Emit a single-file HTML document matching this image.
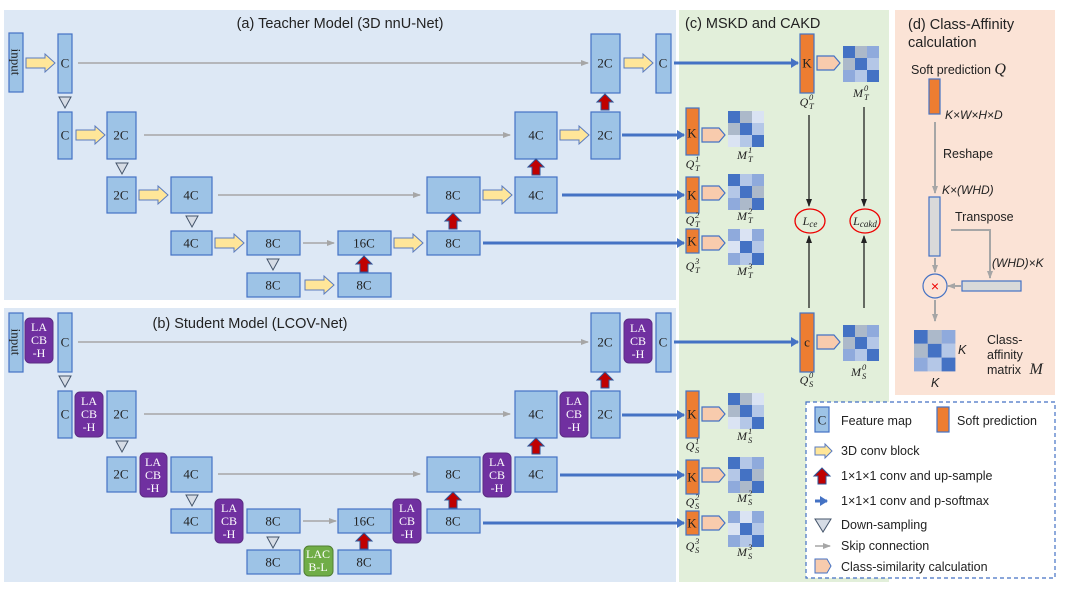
<!DOCTYPE html>
<html><head><meta charset="utf-8"><style>
html,body{margin:0;padding:0;background:#fff;}
svg{display:block;}
.b{fill:#9dc3e6;stroke:#4472c4;stroke-width:1.2;}
.t{font-family:"Liberation Serif",serif;font-size:13px;fill:#222;text-anchor:middle;dominant-baseline:central;}
.s{font-family:"Liberation Sans",sans-serif;fill:#222;}
.p{fill:#7030a0;stroke:#5b2c83;stroke-width:1;}
.pt{font-family:"Liberation Serif",serif;font-size:12px;fill:#fff;text-anchor:middle;}
.o{fill:#ed7d31;stroke:#4472c4;stroke-width:1.2;}
.sk{stroke:#a6a6a6;stroke-width:1.5;fill:none;}
.bl{stroke:#4472c4;stroke-width:3;fill:none;}
.k{stroke:#222;stroke-width:1.3;fill:none;}
.mi{font-family:"Liberation Serif",serif;font-style:italic;font-size:12px;fill:#222;text-anchor:middle;}
.sc{font-family:"Liberation Serif",serif;font-style:italic;font-size:8.5px;fill:#222;}
.g{stroke:#a6a6a6;stroke-width:2;fill:none;}
</style></head><body>
<svg width="1065" height="589" viewBox="0 0 1065 589" xmlns="http://www.w3.org/2000/svg">
<defs>
<path id="ya" d="M0,-5 H19 V-9 L29,0 L19,9 V5 H0 Z" fill="#ffe699" stroke="#5a7bbf" stroke-width="1"/>
<path id="ra" d="M0,0 L8,8 H4 V16 H-4 V8 H-8 Z" fill="#c00000" stroke="#2f5597" stroke-width="1"/>
<path id="tr" d="M-6,0 H6 L0,11 Z" fill="#d6dce5" stroke="#44546a" stroke-width="1"/>
<path id="pe" d="M0,-7 H17 L23,0 L17,7 H0 Z" fill="#f8cbad" stroke="#4472c4" stroke-width="1.2"/>
<marker id="ag" markerWidth="8" markerHeight="8" refX="7" refY="4" orient="auto" markerUnits="userSpaceOnUse"><path d="M0,1 L8,4 L0,7 Z" fill="#a6a6a6"/></marker>
<marker id="ab" markerWidth="8" markerHeight="10" refX="7" refY="5" orient="auto" markerUnits="userSpaceOnUse"><path d="M0,0 L8,5 L0,10 Z" fill="#4472c4"/></marker>
<marker id="ak" markerWidth="8" markerHeight="8" refX="7" refY="4" orient="auto" markerUnits="userSpaceOnUse"><path d="M0,1 L8,4 L0,7 Z" fill="#222"/></marker>
<g id="m0"><rect x="0" y="0" width="12" height="12" fill="#4472c4"/><rect x="12" y="0" width="12" height="12" fill="#acb9ca"/><rect x="24" y="0" width="12" height="12" fill="#8faadc"/><rect x="0" y="12" width="12" height="12" fill="#acb9ca"/><rect x="12" y="12" width="12" height="12" fill="#4472c4"/><rect x="24" y="12" width="12" height="12" fill="#b4c7e7"/><rect x="0" y="24" width="12" height="12" fill="#8faadc"/><rect x="12" y="24" width="12" height="12" fill="#b4c7e7"/><rect x="24" y="24" width="12" height="12" fill="#4472c4"/></g>
<g id="m1"><rect x="0" y="0" width="12" height="12" fill="#4472c4"/><rect x="12" y="0" width="12" height="12" fill="#acb9ca"/><rect x="24" y="0" width="12" height="12" fill="#dae3f3"/><rect x="0" y="12" width="12" height="12" fill="#acb9ca"/><rect x="12" y="12" width="12" height="12" fill="#4472c4"/><rect x="24" y="12" width="12" height="12" fill="#b4c7e7"/><rect x="0" y="24" width="12" height="12" fill="#dae3f3"/><rect x="12" y="24" width="12" height="12" fill="#b4c7e7"/><rect x="24" y="24" width="12" height="12" fill="#4472c4"/></g>
<g id="m2"><rect x="0" y="0" width="12" height="12" fill="#4472c4"/><rect x="12" y="0" width="12" height="12" fill="#b4c7e7"/><rect x="24" y="0" width="12" height="12" fill="#8faadc"/><rect x="0" y="12" width="12" height="12" fill="#b4c7e7"/><rect x="12" y="12" width="12" height="12" fill="#4472c4"/><rect x="24" y="12" width="12" height="12" fill="#acb9ca"/><rect x="0" y="24" width="12" height="12" fill="#8faadc"/><rect x="12" y="24" width="12" height="12" fill="#acb9ca"/><rect x="24" y="24" width="12" height="12" fill="#4472c4"/></g>
<g id="m3"><rect x="0" y="0" width="12" height="12" fill="#8faadc"/><rect x="12" y="0" width="12" height="12" fill="#dae3f3"/><rect x="24" y="0" width="12" height="12" fill="#8faadc"/><rect x="0" y="12" width="12" height="12" fill="#dae3f3"/><rect x="12" y="12" width="12" height="12" fill="#4472c4"/><rect x="24" y="12" width="12" height="12" fill="#b4c7e7"/><rect x="0" y="24" width="12" height="12" fill="#8faadc"/><rect x="12" y="24" width="12" height="12" fill="#b4c7e7"/><rect x="24" y="24" width="12" height="12" fill="#4472c4"/></g>
</defs>

<rect x="4" y="10" width="672" height="290" fill="#dde8f5"/>
<rect x="4" y="308" width="672" height="274" fill="#dde8f5"/>
<rect x="679" y="10" width="210" height="572" fill="#e2efda"/>
<rect x="895" y="10" width="160" height="385" fill="#fbe3d6"/>
<rect x="806" y="402" width="249" height="176" fill="#fff" stroke="#4472c4" stroke-width="1.2" stroke-dasharray="4,3"/>

<text class="s" x="340" y="28" font-size="14.5" text-anchor="middle">(a) Teacher Model (3D nnU-Net)</text>
<text class="s" x="250" y="328" font-size="14.5" text-anchor="middle">(b) Student Model (LCOV-Net)</text>
<text class="s" x="685" y="28" font-size="14.5">(c)  MSKD and CAKD</text>
<text class="s" x="908" y="29" font-size="14.5">(d) Class-Affinity</text>
<text class="s" x="908" y="47" font-size="14.5">calculation</text>

<!-- Teacher -->
<line class="sk" x1="78" y1="63" x2="588" y2="63" marker-end="url(#ag)"/>
<line class="sk" x1="144" y1="135" x2="510" y2="135" marker-end="url(#ag)"/>
<line class="sk" x1="218" y1="195" x2="420" y2="195" marker-end="url(#ag)"/>
<line class="sk" x1="303" y1="243" x2="334" y2="243" marker-end="url(#ag)"/>

<rect class="b" x="9" y="33" width="14" height="59"/>
<text class="t" transform="translate(16,62) rotate(90)" font-size="12">input</text>
<rect class="b" x="58" y="34" width="14" height="59"/><text class="t" x="65" y="63">C</text>
<use href="#tr" x="65" y="97"/>
<rect class="b" x="58" y="112" width="14" height="47"/><text class="t" x="65" y="135">C</text>
<rect class="b" x="107" y="112" width="29" height="47"/><text class="t" x="121" y="135">2C</text>
<use href="#tr" x="122" y="163"/>
<rect class="b" x="107" y="177" width="29" height="36"/><text class="t" x="121" y="195">2C</text>
<rect class="b" x="171" y="177" width="41" height="36"/><text class="t" x="191" y="195">4C</text>
<use href="#tr" x="192" y="216"/>
<rect class="b" x="171" y="231" width="41" height="24"/><text class="t" x="191" y="243">4C</text>
<rect class="b" x="247" y="231" width="53" height="24"/><text class="t" x="273" y="243">8C</text>
<rect class="b" x="338" y="231" width="53" height="24"/><text class="t" x="364" y="243">16C</text>
<rect class="b" x="427" y="231" width="53" height="24"/><text class="t" x="453" y="243">8C</text>
<use href="#tr" x="273" y="259"/>
<rect class="b" x="247" y="273" width="53" height="24"/><text class="t" x="273" y="285">8C</text>
<rect class="b" x="338" y="273" width="53" height="24"/><text class="t" x="364" y="285">8C</text>
<rect class="b" x="427" y="177" width="53" height="36"/><text class="t" x="453" y="195">8C</text>
<rect class="b" x="515" y="177" width="42" height="36"/><text class="t" x="536" y="195">4C</text>
<rect class="b" x="515" y="112" width="42" height="47"/><text class="t" x="536" y="135">4C</text>
<rect class="b" x="591" y="112" width="29" height="47"/><text class="t" x="605" y="135">2C</text>
<rect class="b" x="591" y="34" width="29" height="59"/><text class="t" x="605" y="63">2C</text>
<rect class="b" x="656" y="34" width="15" height="59"/><text class="t" x="663" y="63">C</text>

<use href="#ya" x="26" y="63"/><use href="#ya" x="76" y="135"/><use href="#ya" x="139" y="195"/>
<use href="#ya" x="215" y="243"/><use href="#ya" x="394" y="243"/><use href="#ya" x="305" y="285"/>
<use href="#ya" x="483" y="195"/><use href="#ya" x="560" y="135"/><use href="#ya" x="624" y="63"/>
<use href="#ra" x="364" y="256"/><use href="#ra" x="453" y="213"/><use href="#ra" x="536" y="159"/><use href="#ra" x="605" y="94"/>

<line class="bl" x1="674" y1="63" x2="798" y2="63" marker-end="url(#ab)"/>
<line class="bl" x1="622" y1="135" x2="684" y2="135" marker-end="url(#ab)"/>
<line class="bl" x1="562" y1="195" x2="684" y2="195" marker-end="url(#ab)"/>
<line class="bl" x1="483" y1="243" x2="684" y2="243" marker-end="url(#ab)"/>

<!-- Student -->
<line class="sk" x1="78" y1="342" x2="588" y2="342" marker-end="url(#ag)"/>
<line class="sk" x1="144" y1="414" x2="510" y2="414" marker-end="url(#ag)"/>
<line class="sk" x1="218" y1="474" x2="420" y2="474" marker-end="url(#ag)"/>
<line class="sk" x1="303" y1="521" x2="336" y2="521" marker-end="url(#ag)"/>

<rect class="b" x="9" y="313" width="14" height="59"/>
<text class="t" transform="translate(16,342) rotate(90)" font-size="12">input</text>
<rect class="p" x="25" y="318" width="28" height="45" rx="5"/><text class="pt" x="39" y="331">LA</text><text class="pt" x="39" y="344">CB</text><text class="pt" x="39" y="357">-H</text>
<rect class="b" x="58" y="313" width="14" height="59"/><text class="t" x="65" y="342">C</text>
<use href="#tr" x="65" y="376"/>
<rect class="b" x="58" y="391" width="14" height="47"/><text class="t" x="65" y="414">C</text>
<rect class="p" x="75" y="392" width="28" height="45" rx="5"/><text class="pt" x="89" y="405">LA</text><text class="pt" x="89" y="418">CB</text><text class="pt" x="89" y="431">-H</text>
<rect class="b" x="107" y="391" width="29" height="47"/><text class="t" x="121" y="414">2C</text>
<use href="#tr" x="122" y="441"/>
<rect class="b" x="107" y="457" width="29" height="35"/><text class="t" x="121" y="474">2C</text>
<rect class="p" x="140" y="453" width="27" height="44" rx="5"/><text class="pt" x="153" y="466">LA</text><text class="pt" x="153" y="479">CB</text><text class="pt" x="153" y="492">-H</text>
<rect class="b" x="171" y="457" width="41" height="35"/><text class="t" x="191" y="474">4C</text>
<use href="#tr" x="192" y="495"/>
<rect class="b" x="171" y="509" width="41" height="24"/><text class="t" x="191" y="521">4C</text>
<rect class="p" x="215" y="499" width="28" height="44" rx="5"/><text class="pt" x="229" y="512">LA</text><text class="pt" x="229" y="525">CB</text><text class="pt" x="229" y="538">-H</text>
<rect class="b" x="247" y="509" width="53" height="24"/><text class="t" x="273" y="521">8C</text>
<rect class="b" x="338" y="509" width="53" height="24"/><text class="t" x="364" y="521">16C</text>
<rect class="p" x="393" y="499" width="28" height="44" rx="5"/><text class="pt" x="407" y="512">LA</text><text class="pt" x="407" y="525">CB</text><text class="pt" x="407" y="538">-H</text>
<rect class="b" x="427" y="509" width="53" height="24"/><text class="t" x="453" y="521">8C</text>
<use href="#tr" x="273" y="537"/>
<rect class="b" x="247" y="550" width="53" height="24"/><text class="t" x="273" y="562">8C</text>
<rect x="304" y="546" width="29" height="30" rx="5" fill="#70ad47" stroke="#507e32"/><text class="pt" x="318" y="558">LAC</text><text class="pt" x="318" y="571">B-L</text>
<rect class="b" x="338" y="550" width="53" height="24"/><text class="t" x="364" y="562">8C</text>
<rect class="b" x="427" y="457" width="53" height="35"/><text class="t" x="453" y="474">8C</text>
<rect class="p" x="483" y="453" width="28" height="44" rx="5"/><text class="pt" x="497" y="466">LA</text><text class="pt" x="497" y="479">CB</text><text class="pt" x="497" y="492">-H</text>
<rect class="b" x="515" y="457" width="42" height="35"/><text class="t" x="536" y="474">4C</text>
<rect class="b" x="515" y="391" width="42" height="47"/><text class="t" x="536" y="414">4C</text>
<rect class="p" x="560" y="392" width="28" height="45" rx="5"/><text class="pt" x="574" y="405">LA</text><text class="pt" x="574" y="418">CB</text><text class="pt" x="574" y="431">-H</text>
<rect class="b" x="591" y="391" width="29" height="47"/><text class="t" x="605" y="414">2C</text>
<rect class="b" x="591" y="313" width="29" height="59"/><text class="t" x="605" y="342">2C</text>
<rect class="p" x="624" y="319" width="28" height="44" rx="5"/><text class="pt" x="638" y="332">LA</text><text class="pt" x="638" y="345">CB</text><text class="pt" x="638" y="358">-H</text>
<rect class="b" x="656" y="313" width="15" height="59"/><text class="t" x="663" y="342">C</text>

<use href="#ra" x="364" y="533"/><use href="#ra" x="453" y="492"/><use href="#ra" x="536" y="438"/><use href="#ra" x="605" y="372"/>

<line class="bl" x1="674" y1="342" x2="798" y2="342" marker-end="url(#ab)"/>
<line class="bl" x1="622" y1="415" x2="684" y2="415" marker-end="url(#ab)"/>
<line class="bl" x1="560" y1="475" x2="684" y2="475" marker-end="url(#ab)"/>
<line class="bl" x1="483" y1="523" x2="684" y2="523" marker-end="url(#ab)"/>

<!-- Panel c -->
<rect class="o" x="800" y="34" width="14" height="59"/><text class="t" x="807" y="63">K</text>
<use href="#pe" x="817" y="63"/><use href="#m0" x="843" y="46"/>
<text class="mi" x="804" y="106">Q</text><text class="sc" x="809" y="100">0</text><text class="sc" x="809" y="109">T</text>
<text class="mi" x="858" y="97">M</text><text class="sc" x="864" y="91">0</text><text class="sc" x="864" y="100">T</text>

<rect class="o" x="686" y="108" width="13" height="47"/><text class="t" x="692" y="133">K</text>
<use href="#pe" x="702" y="135"/><use href="#m1" x="728" y="111"/>
<text class="mi" x="690" y="168">Q</text><text class="sc" x="695" y="162">1</text><text class="sc" x="695" y="171">T</text>
<text class="mi" x="742" y="159">M</text><text class="sc" x="748" y="153">1</text><text class="sc" x="748" y="162">T</text>
<rect class="o" x="686" y="177" width="13" height="36"/><text class="t" x="692" y="195">K</text>
<use href="#pe" x="702" y="193"/><use href="#m2" x="728" y="174"/>
<text class="mi" x="690" y="224">Q</text><text class="sc" x="695" y="218">2</text><text class="sc" x="695" y="227">T</text>
<text class="mi" x="742" y="220">M</text><text class="sc" x="748" y="214">2</text><text class="sc" x="748" y="223">T</text>
<rect class="o" x="686" y="229" width="13" height="24"/><text class="t" x="692" y="241">K</text>
<use href="#pe" x="702" y="243"/><use href="#m3" x="728" y="229"/>
<text class="mi" x="690" y="270">Q</text><text class="sc" x="695" y="264">3</text><text class="sc" x="695" y="273">T</text>
<text class="mi" x="742" y="275">M</text><text class="sc" x="748" y="269">3</text><text class="sc" x="748" y="278">T</text>

<line class="k" x1="809" y1="115" x2="809" y2="206" marker-end="url(#ak)"/>
<line class="k" x1="864" y1="107" x2="864" y2="206" marker-end="url(#ak)"/>
<line class="k" x1="809" y1="308" x2="809" y2="236" marker-end="url(#ak)"/>
<line class="k" x1="864" y1="308" x2="864" y2="236" marker-end="url(#ak)"/>
<ellipse cx="810" cy="221" rx="15" ry="12" fill="none" stroke="#e00" stroke-width="1.3"/>
<ellipse cx="865" cy="221" rx="15" ry="12" fill="none" stroke="#e00" stroke-width="1.3"/>
<text class="mi" x="810" y="225" font-size="13">L<tspan font-size="9" dy="2">ce</tspan></text>
<text class="mi" x="865" y="225" font-size="13">L<tspan font-size="9" dy="2">cakd</tspan></text>

<rect class="o" x="800" y="313" width="14" height="59"/><text class="t" x="807" y="342">c</text>
<use href="#pe" x="817" y="342"/><use href="#m0" x="843" y="325"/>
<text class="mi" x="804" y="384">Q</text><text class="sc" x="809" y="378">0</text><text class="sc" x="809" y="387">S</text>
<text class="mi" x="856" y="376">M</text><text class="sc" x="862" y="370">0</text><text class="sc" x="862" y="379">S</text>

<rect class="o" x="686" y="391" width="13" height="47"/><text class="t" x="692" y="414">K</text>
<use href="#pe" x="702" y="414"/><use href="#m1" x="728" y="393"/>
<text class="mi" x="690" y="450">Q</text><text class="sc" x="695" y="444">1</text><text class="sc" x="695" y="453">S</text>
<text class="mi" x="742" y="440">M</text><text class="sc" x="748" y="434">1</text><text class="sc" x="748" y="443">S</text>
<rect class="o" x="686" y="460" width="13" height="34"/><text class="t" x="692" y="477">K</text>
<use href="#pe" x="702" y="475"/><use href="#m2" x="728" y="457"/>
<text class="mi" x="690" y="506">Q</text><text class="sc" x="695" y="500">2</text><text class="sc" x="695" y="509">S</text>
<text class="mi" x="742" y="502">M</text><text class="sc" x="748" y="496">2</text><text class="sc" x="748" y="505">S</text>
<rect class="o" x="686" y="511" width="13" height="24"/><text class="t" x="692" y="523">K</text>
<use href="#pe" x="702" y="523"/><use href="#m3" x="728" y="511"/>
<text class="mi" x="690" y="550">Q</text><text class="sc" x="695" y="544">3</text><text class="sc" x="695" y="553">S</text>
<text class="mi" x="742" y="556">M</text><text class="sc" x="748" y="550">3</text><text class="sc" x="748" y="559">S</text>

<!-- Panel d -->
<text class="s" x="911" y="74" font-size="12.5">Soft prediction <tspan font-family="Liberation Serif" font-style="italic" font-size="16">Q</tspan></text>
<rect class="o" x="929" y="79" width="11" height="35"/>
<text class="s" x="945" y="119" font-size="12" font-style="italic">K×W×H×D</text>
<line class="g" x1="935" y1="122" x2="935" y2="193" marker-end="url(#ag)"/>
<text class="s" x="943" y="158" font-size="12.5">Reshape</text>
<text class="s" x="942" y="194" font-size="12" font-style="italic">K×(WHD)</text>
<rect x="929" y="197" width="11" height="59" fill="#d9d9d9" stroke="#4472c4" stroke-width="1.2"/>
<text class="s" x="955" y="221" font-size="12.5">Transpose</text>
<polyline class="g" points="951,230 990,230 990,278" marker-end="url(#ag)"/>
<text class="s" x="992" y="267" font-size="12" font-style="italic">(WHD)×K</text>
<rect x="962" y="281" width="59" height="10" fill="#d9d9d9" stroke="#4472c4" stroke-width="1.2"/>
<line class="g" x1="961" y1="286" x2="948" y2="286" marker-end="url(#ag)"/>
<line class="g" x1="935" y1="258" x2="935" y2="272" marker-end="url(#ag)"/>
<circle cx="935" cy="286" r="12" fill="none" stroke="#4472c4" stroke-width="1.2"/>
<text x="935" y="291" text-anchor="middle" font-family="Liberation Sans" font-size="14" fill="#e00">×</text>
<line class="g" x1="935" y1="300" x2="935" y2="321" marker-end="url(#ag)"/>
<use href="#m0" transform="translate(914,330) scale(1.15)"/>
<text class="s" x="958" y="354" font-size="12.5" font-style="italic">K</text>
<text class="s" x="931" y="387" font-size="12.5" font-style="italic">K</text>
<text class="s" x="987" y="344" font-size="12.5">Class-</text>
<text class="s" x="987" y="359" font-size="12.5">affinity</text>
<text class="s" x="987" y="374" font-size="12.5">matrix <tspan font-family="Liberation Serif" font-style="italic" font-size="16" dx="5">M</tspan></text>

<!-- Legend -->
<rect class="b" x="815" y="407" width="14" height="25"/><text class="t" x="822" y="420">C</text>
<text class="s" x="841" y="425" font-size="12.5">Feature map</text>
<rect class="o" x="937" y="407" width="12" height="25"/>
<text class="s" x="957" y="425" font-size="12.5">Soft prediction</text>
<path d="M815,447 H825 V444 L832,451 L825,458 V455 H815 Z" fill="#ffe699" stroke="#5a7bbf"/>
<text class="s" x="841" y="455" font-size="12.5">3D conv block</text>
<use href="#ra" x="822" y="468"/>
<text class="s" x="841" y="480" font-size="12.5">1×1×1 conv and up-sample</text>
<line class="bl" x1="815" y1="501" x2="827" y2="501" marker-end="url(#ab)"/>
<text class="s" x="841" y="505" font-size="12.5">1×1×1 conv and p-softmax</text>
<path d="M815,519 H831 L823,532 Z" fill="#d6dce5" stroke="#44546a"/>
<text class="s" x="841" y="529" font-size="12.5">Down-sampling</text>
<line class="sk" x1="815" y1="546" x2="830" y2="546" marker-end="url(#ag)"/>
<text class="s" x="841" y="550" font-size="12.5">Skip connection</text>
<path d="M815,559 H827 L831,566 L827,573 H815 Z" fill="#f8cbad" stroke="#4472c4"/>
<text class="s" x="841" y="571" font-size="12.5">Class-similarity calculation</text>
</svg>
</body></html>
